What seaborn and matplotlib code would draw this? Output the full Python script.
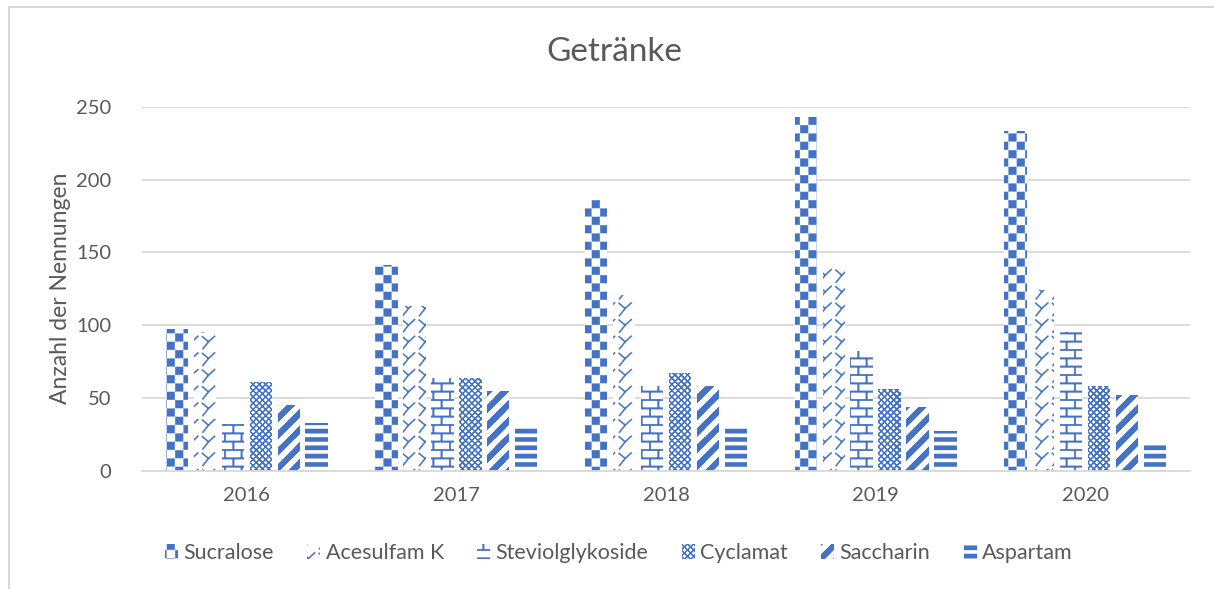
import warnings
warnings.filterwarnings("ignore")
import numpy as np
import pandas as pd
import matplotlib
matplotlib.use("Agg")
import matplotlib.pyplot as plt
import matplotlib.hatch as mhatch
from matplotlib.path import Path
from matplotlib.lines import Line2D
import seaborn as sns

# ---------------- data ----------------
years = ["2016", "2017", "2018", "2019", "2020"]
substances = ["Sucralose", "Acesulfam K", "Steviolglykoside", "Cyclamat", "Saccharin", "Aspartam"]
sucralose = [97, 141, 186, 243, 233]
acesulfam = [95, 113, 121, 139, 124]
steviol = [32, 64, 58, 82, 95]
cyclamat = [61, 64, 67, 56, 58]
saccharin = [45, 55, 58, 44, 52]
aspartam = [33, 30, 30, 27, 18]
y_ticks = [0, 50, 100, 150, 200, 250]
title = "Getränke"
y_label = "Anzahl der Nennungen"

series = [sucralose, acesulfam, steviol, cyclamat, saccharin, aspartam]
df = pd.DataFrame(
    [(y, s, v) for s, vals in zip(substances, series) for y, v in zip(years, vals)],
    columns=["Jahr", "Stoff", "Anzahl"],
)

# ---------------- custom fill patterns (Excel-like) ----------------
def _quad_seg(x0, y0, x1, y1, w):
    d = np.array([x1 - x0, y1 - y0], float)
    n = np.array([-d[1], d[0]]) / (np.hypot(*d) + 1e-12) * w / 2
    return [(x0 + n[0], y0 + n[1]), (x1 + n[0], y1 + n[1]),
            (x1 - n[0], y1 - n[1]), (x0 - n[0], y0 - n[1])]

def _build(polys_px):
    verts, codes = [], []
    for poly in polys_px:
        p = np.asarray(poly, float) / 100.0
        shifts = [(0, 0)]
        if p[:, 0].min() < 0 or p[:, 0].max() > 1 or p[:, 1].min() < 0 or p[:, 1].max() > 1:
            shifts = [(dx, dy) for dx in (-1, 0, 1) for dy in (-1, 0, 1)]
        for dx, dy in shifts:
            q = p + np.array([dx, dy])
            if q[:, 0].max() < 0 or q[:, 0].min() > 1 or q[:, 1].max() < 0 or q[:, 1].min() > 1:
                continue
            verts.extend(q.tolist()); verts.append(q[0].tolist())
            codes.extend([Path.MOVETO] + [Path.LINETO] * (len(q) - 1) + [Path.CLOSEPOLY])
    return np.array(verts), np.array(codes, dtype=Path.code_type)

def _checker():
    n = 12; s = 100 / n; e = 0.25
    return [[(i*s+e, j*s+e), ((i+1)*s-e, j*s+e), ((i+1)*s-e, (j+1)*s-e), (i*s+e, (j+1)*s-e)]
            for i in range(n) for j in range(n) if (i + j) % 2 == 0]

def _divot():
    c = 100 / 6; w = 1.3; out = []
    for i in range(6):
        for j in range(6):
            ox, oy = i * c, j * c
            def P(x, y):
                return (ox + x, oy + c - y)
            a, m, b, d = P(2, 3), P(8.5, 8.5), P(15, 2.5), P(2.5, 16)
            out.append(_quad_seg(*a, *m, w))
            out.append(_quad_seg(*m, *b, w))
            out.append(_quad_seg(*m, *d, w))
    return out

def _brick():
    rh = 100 / 12; bw = 100 / 6; w = 1.7; out = []
    for r in range(12):
        y = r * rh
        out.append([(-1, y - w/2), (101, y - w/2), (101, y + w/2), (-1, y + w/2)])
        off = 0 if r % 2 == 0 else bw / 2
        for k in range(7):
            x = off + k * bw
            out.append([(x - w/2, y), (x + w/2, y), (x + w/2, y + rh), (x - w/2, y + rh)])
    return out

def _lattice():
    p = 100 / 16; w = 0.85; out = []
    for k in range(-17, 18):
        c = k * p
        out.append(_quad_seg(-5, -5 + c, 105, 105 + c, w))
        out.append(_quad_seg(-5, 105 - c, 105, -5 - c, w))
    return out

def _wide_up():
    p = 100 / 6; t = 7.5; out = []
    for k in range(-7, 8):
        c = k * p
        out.append([(-5, -5 + c), (105, 105 + c), (105, 105 + c + t), (-5, -5 + c + t)])
    return out

def _hbars():
    p = 100 / 12; t = 4.4; out = []
    for k in range(12):
        y = k * p
        out.append([(-1, y), (101, y), (101, y + t), (-1, y + t)])
    return out

_PATTERNS = {
    "c": _build(_checker()),
    "d": _build(_divot()),
    "b": _build(_brick()),
    "g": _build(_lattice()),
    "s": _build(_wide_up()),
    "h": _build(_hbars()),
}

class ExcelPattern(mhatch.HatchPatternBase):
    def __init__(self, hatch, density):
        self.data = None
        for ch, data in _PATTERNS.items():
            if ch in hatch:
                self.data = data
                break
        self.num_vertices = 0 if self.data is None else len(self.data[0])

    def set_vertices_and_codes(self, vertices, codes):
        vertices[:] = self.data[0]
        codes[:] = self.data[1]

mhatch._hatch_types.append(ExcelPattern)

hatches = ["c", "d", "b", "g", "s", "h"]

# ---------------- style ----------------
sns.set_theme(style="white")
plt.rcParams["font.family"] = ["Lato", "DejaVu Sans"]
plt.rcParams["hatch.linewidth"] = 0.2
BLUE = "#4472C4"
TXT = "#595959"
GRID = "#D9D9D9"

fig = plt.figure(figsize=(12.14, 5.89), dpi=100)
ax = fig.add_axes([142/1214, 118.3/589, (1190-142)/1214, (470.7-106.7)/589])

sns.barplot(data=df, x="Jahr", y="Anzahl", hue="Stoff", hue_order=substances,
            order=years, palette=[BLUE]*6, width=0.8, gap=0.2, legend=False,
            ax=ax, saturation=1, err_kws={"linewidth": 0})

for cont, h in zip(ax.containers, hatches):
    for p in cont.patches:
        p.set_facecolor("white")
        p.set_edgecolor(BLUE)
        p.set_linewidth(0)
        p.set_hatch(h)
        try:
            p.set_hatch_linewidth(0.2)
        except Exception:
            pass

ax.set_ylim(0, 250)
ax.set_xlim(-0.5, 4.5)
ax.set_yticks(y_ticks)
ax.yaxis.grid(True, color=GRID, linewidth=1.3)
ax.set_axisbelow(True)
for s in ["top", "right", "left"]:
    ax.spines[s].set_visible(False)
ax.spines["bottom"].set_color(GRID)
ax.spines["bottom"].set_linewidth(1.3)
ax.tick_params(axis="both", length=0, labelsize=14.5, labelcolor=TXT)
ax.tick_params(axis="y", pad=22)
ax.tick_params(axis="x", pad=12)
ax.set_xlabel("")
ax.set_ylabel(y_label, fontsize=16.5, color=TXT)
ax.yaxis.set_label_coords((71 - 142) / 1048, 0.5)

fig.text(614/1214, 1 - 52/589, title, ha="center", va="center", fontsize=24, color=TXT)

leg = fig.legend(handles=list(ax.containers), labels=substances, loc="center",
                 bbox_to_anchor=(619/1214, 1 - 553/589), ncol=6, frameon=False,
                 fontsize=15.5, handlelength=0.6, handleheight=0.75, handletextpad=0.25,
                 columnspacing=1.55, labelcolor=TXT)

# chart border (light grey frame)
fig.add_artist(Line2D([9/1214, 9/1214], [0, 1 - 7/589], color=GRID, linewidth=1.5))
fig.add_artist(Line2D([9/1214, 1], [1 - 7/589, 1 - 7/589], color=GRID, linewidth=1.5))

fig.savefig("out.png", dpi=100)
